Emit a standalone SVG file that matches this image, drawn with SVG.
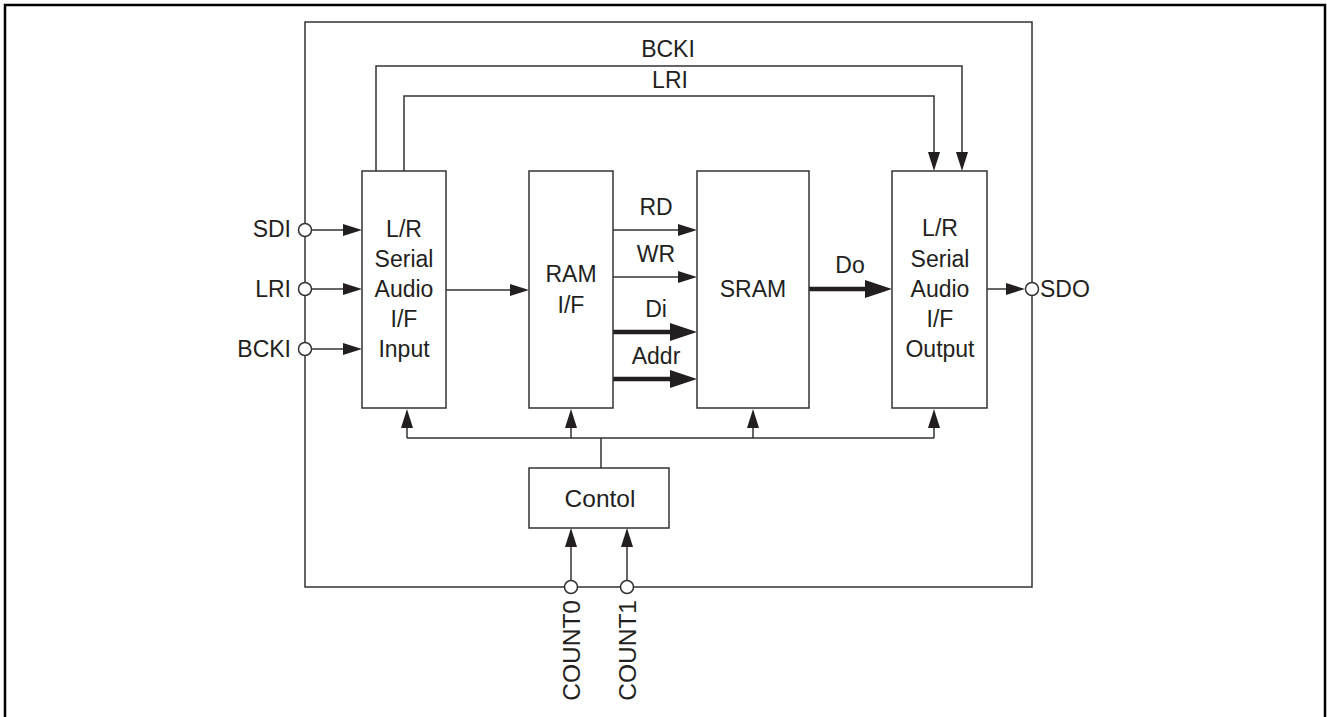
<svg xmlns="http://www.w3.org/2000/svg" width="1327" height="717" viewBox="0 0 1327 717">
<style>
  text { font-family: "Liberation Sans", Arial, sans-serif; font-size: 23px; fill: #231f20; }
  .c { text-anchor: middle; }
  .e { text-anchor: end; }
  .big { font-size: 24.5px; }
  .box { fill: #fff; stroke: #333; stroke-width: 1.5; }
  .ln { fill: none; stroke: #333; stroke-width: 1.5; }
  .thick { fill: none; stroke: #231f20; stroke-width: 4.5; }
  .ah { fill: #231f20; stroke: none; }
  .pin { fill: #fff; stroke: #333; stroke-width: 1.5; }
</style>
<rect x="0" y="0" width="1327" height="717" fill="#fff"/>
<rect x="5" y="5" width="1320" height="730" fill="none" stroke="#000" stroke-width="2.5"/>
<g id="chip"><rect x="305" y="22" width="727" height="565" fill="none" stroke="#333" stroke-width="1.5"/></g>

<g id="connectors">
  <!-- BCKI / LRI loops -->
  <path class="ln" d="M376,171 V66 H962 V153"/>
  <polygon class="ah" points="956,152 968,152 962,171"/>
  <path class="ln" d="M404,171 V96 H934 V153"/>
  <polygon class="ah" points="928,152 940,152 934,171"/>
  <!-- input pins -->
  <line class="ln" x1="312" y1="230" x2="344" y2="230"/>
  <polygon class="ah" points="343,224 362,230 343,236"/>
  <line class="ln" x1="312" y1="289" x2="344" y2="289"/>
  <polygon class="ah" points="343,283 362,289 343,295"/>
  <line class="ln" x1="312" y1="349" x2="344" y2="349"/>
  <polygon class="ah" points="343,343 362,349 343,355"/>
  <!-- input -> RAM -->
  <line class="ln" x1="446" y1="290" x2="511" y2="290"/>
  <polygon class="ah" points="510,284 529,290 510,296"/>
  <!-- RAM -> SRAM -->
  <line class="ln" x1="613" y1="230" x2="679" y2="230"/>
  <polygon class="ah" points="678,224 697,230 678,236"/>
  <line class="ln" x1="613" y1="277" x2="679" y2="277"/>
  <polygon class="ah" points="678,271 697,277 678,283"/>
  <line class="thick" x1="613" y1="332" x2="671" y2="332"/>
  <polygon class="ah" points="670,323 697,332 670,341"/>
  <line class="thick" x1="613" y1="379" x2="671" y2="379"/>
  <polygon class="ah" points="670,370 697,379 670,388"/>
  <!-- SRAM -> output -->
  <line class="thick" x1="809" y1="289" x2="866" y2="289"/>
  <polygon class="ah" points="865,280 892,289 865,298"/>
  <!-- output -> SDO -->
  <line class="ln" x1="987" y1="289" x2="1007" y2="289"/>
  <polygon class="ah" points="1006,283 1025,289 1006,295"/>
  <!-- control bus -->
  <path class="ln" d="M407,438 H934 M601,438 V468 M407,438 V427 M571,438 V427 M753,438 V427 M934,438 V427"/>
  <polygon class="ah" points="401,428 413,428 407,409"/>
  <polygon class="ah" points="565,428 577,428 571,409"/>
  <polygon class="ah" points="747,428 759,428 753,409"/>
  <polygon class="ah" points="928,428 940,428 934,409"/>
  <!-- COUNT inputs -->
  <line class="ln" x1="571" y1="580" x2="571" y2="546"/>
  <polygon class="ah" points="565,547 577,547 571,528"/>
  <line class="ln" x1="627" y1="580" x2="627" y2="546"/>
  <polygon class="ah" points="621,547 633,547 627,528"/>
</g>

<g id="pins">
  <circle class="pin" cx="305" cy="230" r="6.5"/>
  <circle class="pin" cx="305" cy="289" r="6.5"/>
  <circle class="pin" cx="305" cy="349" r="6.5"/>
  <circle class="pin" cx="1032" cy="289" r="6.5"/>
  <circle class="pin" cx="571" cy="587" r="6.5"/>
  <circle class="pin" cx="627" cy="587" r="6.5"/>
</g>

<g id="labels">
  <text class="c" x="668" y="57">BCKI</text>
  <text class="c" x="670" y="88">LRI</text>
  <text class="e" x="291" y="237">SDI</text>
  <text class="e" x="291" y="297">LRI</text>
  <text class="e" x="291" y="357">BCKI</text>
  <text x="1040" y="297">SDO</text>
  <text class="c" x="656" y="215">RD</text>
  <text class="c" x="656" y="262">WR</text>
  <text class="c" x="656" y="317">Di</text>
  <text class="c" x="656" y="364">Addr</text>
  <text class="c" x="850" y="273">Do</text>
  <text class="e big" transform="translate(580,600) rotate(-90)">COUNT0</text>
  <text class="e big" transform="translate(636,600) rotate(-90)">COUNT1</text>
</g>

<g id="input">
  <rect class="box" x="362" y="171" width="84" height="237"/>
  <text class="c" x="404" y="237">L/R</text>
  <text class="c" x="404" y="267">Serial</text>
  <text class="c" x="404" y="297">Audio</text>
  <text class="c" x="404" y="327">I/F</text>
  <text class="c" x="404" y="357">Input</text>
</g>
<g id="ramif">
  <rect class="box" x="529" y="171" width="84" height="237"/>
  <text class="c" x="571" y="282">RAM</text>
  <text class="c" x="571" y="313">I/F</text>
</g>
<g id="sram">
  <rect class="box" x="697" y="171" width="112" height="237"/>
  <text class="c" x="753" y="297">SRAM</text>
</g>
<g id="output">
  <rect class="box" x="892" y="171" width="95" height="237"/>
  <text class="c" x="940" y="236">L/R</text>
  <text class="c" x="940" y="267">Serial</text>
  <text class="c" x="940" y="297">Audio</text>
  <text class="c" x="940" y="327">I/F</text>
  <text class="c" x="940" y="357">Output</text>
</g>
<g id="control">
  <rect class="box" x="529" y="468" width="140" height="60"/>
  <text class="c big" x="600" y="507">Contol</text>
</g>
</svg>
